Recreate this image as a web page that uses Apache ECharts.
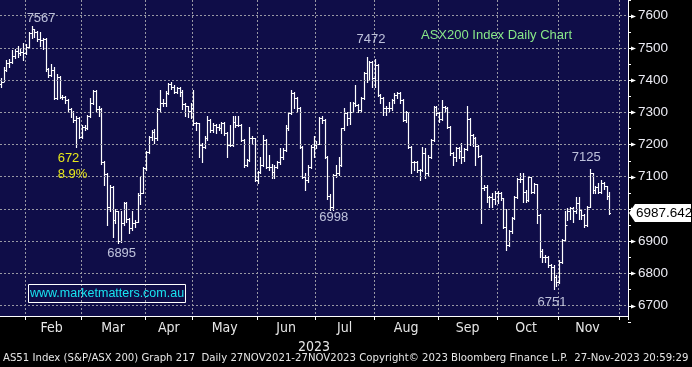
<!DOCTYPE html>
<html><head><meta charset="utf-8">
<script src="https://cdn.jsdelivr.net/npm/echarts@6/dist/echarts.min.js"></script>
<style>html,body{margin:0;padding:0;background:#000}#c{width:692px;height:367px}</style>
</head><body><div id="c"></div>
<script>
// ---- categories: trading days (last six are future days on the axis)
const monthKeys = ['2023-01','2023-02','2023-03','2023-04','2023-05','2023-06','2023-07','2023-08','2023-09','2023-10','2023-11','2023-12'];
const tradingDays = [
  [18,19,20,23,24,25,27,30,31],
  [1,2,3,6,7,8,9,10,13,14,15,16,17,20,21,22,23,24,27,28],
  [1,2,3,6,7,8,9,10,13,14,15,16,17,20,21,22,23,24,27,28,29,30,31],
  [3,4,5,6,11,12,13,14,17,18,19,20,21,24,26,27,28],
  [1,2,3,4,5,8,9,10,11,12,15,16,17,18,19,22,23,24,25,26,29,30,31],
  [1,2,5,6,7,8,9,13,14,15,16,19,20,21,22,23,26,27,28,29,30],
  [3,4,5,6,7,10,11,12,13,14,17,18,19,20,21,24,25,26,27,28,31],
  [1,2,3,4,7,8,9,10,11,14,15,16,17,18,21,22,23,24,25,28,29,30,31],
  [1,4,5,6,7,8,11,12,13,14,15,18,19,20,21,22,25,26,27,28,29],
  [2,3,4,5,6,9,10,11,12,13,16,17,18,19,20,23,24,25,26,27,30,31],
  [1,2,3,6,7,8,9,10,13,14,15,16,17,20,21,22,23,24,27,28,29,30],
  [1,4,5]
];
const labelMonthKeys = ['2023-02','2023-03','2023-04','2023-05','2023-06','2023-07','2023-08','2023-09','2023-10','2023-11'];
const labelMonthNames = ['Feb','Mar','Apr','May','Jun','Jul','Aug','Sep','Oct','Nov'];

// ---- OHLC values (Jan 18 .. Nov 27 2023)
const openV = [
 7388,7395,7431,7454,7457,7475,7490,7483,7488,
 7483,7504,7545,7558,7550,7527,7525,7527,7433,7416,7431,7343,7411,7349,7346,7338,7309,7300,7276,7281,
 7224,7255,7250,7288,7328,7367,7310,7309,7147,7108,7007,7069,6966,6992,6900,6955,7017,6968,6940,6955,6960,7043,7050,
 7126,7178,7222,7240,7219,7309,7328,7328,7361,7388,7380,7364,7374,7364,7325,7318,7305,
 7312,7266,7266,7199,7193,7219,7276,7245,7261,7255,7250,7266,7235,7199,7199,7270,7261,7261,7214,7136,7152,7219,7219,
 7090,7115,7136,7214,7131,7131,7115,7131,7145,7160,7183,7250,7297,7359,7344,7312,7193,7100,7090,7131,7193,
 7198,7203,7281,7275,7162,7040,7005,7105,7110,7136,7250,7297,7281,7302,7328,7323,7307,7343,7421,7400,7457,
 7405,7447,7354,7343,7312,7312,7312,7338,7354,7359,7338,7276,7300,7193,7147,7147,7121,7121,7173,7110,7162,7214,7317,
 7297,7280,7317,7312,7255,7175,7160,7188,7180,7160,7185,7278,7230,7220,7195,7165,7064,7069,7036,7036,7030,
 7049,7049,7033,6945,6888,6930,6971,7038,7092,7092,7054,7028,7098,7054,7076,6981,6870,6852,6850,6826,6820,6790,
 6774,6836,6904,6950,6992,7002,6992,7018,6997,6981,6950,7007,7111,7059,7069,7054,7080,7070,7040
];
const highV = [
 7405,7440,7462,7467,7493,7497,7505,7500,7515,
 7512,7550,7567,7560,7553,7548,7532,7530,7436,7450,7440,7418,7413,7355,7350,7340,7312,7303,7287,7285,
 7262,7260,7292,7345,7370,7370,7320,7312,7150,7110,7075,7070,7000,6995,6992,7020,7020,6972,6995,6965,7050,7100,7130,
 7180,7225,7244,7248,7312,7370,7340,7365,7392,7395,7384,7380,7378,7368,7330,7320,7330,
 7369,7270,7268,7205,7225,7290,7280,7266,7265,7265,7270,7270,7238,7261,7290,7290,7290,7265,7216,7156,7255,7225,7221,
 7118,7160,7230,7216,7168,7140,7136,7150,7188,7190,7260,7300,7369,7362,7347,7315,7196,7110,7136,7198,7225,
 7212,7285,7290,7278,7165,7045,7108,7136,7160,7252,7312,7300,7333,7332,7385,7326,7346,7425,7472,7460,7460,
 7467,7450,7358,7346,7318,7333,7340,7359,7362,7362,7340,7304,7302,7195,7150,7150,7125,7193,7190,7166,7217,7320,7320,
 7302,7338,7320,7315,7258,7178,7192,7192,7206,7190,7320,7282,7233,7223,7198,7168,7074,7074,7040,7050,7055,
 7055,7052,7035,7000,6935,6975,7040,7095,7110,7110,7058,7100,7100,7080,7078,6985,6875,6858,6855,6830,6825,6795,
 6840,6908,6992,7002,7007,7005,7038,7038,7000,6985,7010,7125,7112,7072,7080,7090,7083,7072,7054
];
const lowV = [
 7380,7398,7428,7440,7452,7470,7472,7478,7463,
 7480,7500,7530,7535,7520,7505,7498,7428,7410,7412,7340,7340,7343,7340,7330,7300,7285,7270,7193,7220,
 7220,7244,7248,7285,7325,7305,7290,7140,7075,6950,6995,6914,6955,6895,6897,6950,6960,6924,6935,6945,6958,7015,7048,
 7122,7175,7215,7205,7215,7305,7318,7318,7358,7372,7360,7360,7350,7310,7290,7285,7282,
 7262,7246,7162,7145,7190,7215,7240,7240,7235,7245,7236,7230,7162,7195,7195,7255,7256,7210,7130,7132,7148,7200,7088,
 7080,7112,7132,7127,7121,7095,7095,7128,7140,7155,7180,7245,7295,7312,7305,7188,7095,7059,7085,7128,7162,
 7190,7200,7268,7158,7030,6998,6998,7100,7105,7132,7245,7260,7265,7300,7318,7300,7305,7340,7395,7400,7380,
 7380,7350,7330,7291,7291,7305,7308,7330,7345,7330,7272,7270,7190,7110,7120,7115,7090,7118,7095,7105,7158,7210,7292,
 7270,7276,7305,7250,7167,7137,7150,7157,7141,7150,7182,7199,7195,7137,7160,6955,7060,7020,7005,7005,7015,
 7017,7028,6940,6872,6885,6925,6968,7035,7085,7022,7020,7025,7050,7050,6955,6850,6836,6835,6820,6780,6751,6760,
 6770,6832,6900,6966,6970,6960,6988,6970,6970,6945,6948,7005,7050,7050,7050,7050,7062,7030,6985
];
const closeV = [
 7395,7431,7454,7457,7475,7490,7483,7488,7483,
 7504,7545,7558,7550,7527,7525,7527,7433,7416,7431,7343,7411,7349,7346,7338,7309,7300,7276,7281,7224,
 7255,7250,7288,7328,7367,7310,7309,7147,7108,7007,7069,6966,6992,6900,6955,7017,6968,6940,6955,6960,7043,7050,7126,
 7178,7222,7240,7219,7309,7328,7328,7361,7388,7380,7364,7374,7364,7325,7318,7305,7312,
 7266,7266,7199,7193,7219,7276,7245,7261,7255,7250,7266,7235,7199,7199,7270,7261,7261,7214,7136,7152,7219,7219,7090,
 7115,7136,7214,7131,7131,7115,7131,7145,7160,7183,7250,7297,7359,7344,7312,7193,7100,7090,7131,7193,7198,
 7203,7281,7275,7162,7040,7005,7105,7110,7136,7250,7297,7281,7302,7328,7323,7307,7343,7421,7400,7457,7405,
 7447,7354,7343,7312,7312,7312,7338,7354,7359,7338,7276,7300,7193,7147,7147,7121,7121,7173,7110,7162,7214,7317,7297,
 7280,7317,7312,7255,7175,7160,7188,7180,7160,7185,7278,7230,7220,7195,7165,7064,7069,7036,7036,7030,7049,
 7049,7033,6945,6888,6930,6971,7038,7092,7092,7054,7028,7098,7054,7076,6981,6870,6852,6850,6826,6820,6790,6774,
 6836,6904,6950,6992,7002,6992,7018,6997,6981,6950,7007,7111,7059,7069,7054,7080,7070,7040,6987.642
];

// ---- y axis ticks
const yTicks = [6700,6800,6900,7000,7100,7200,7300,7400,7500,7600];
const yMinorTicks = [6650,6750,6850,6950,7050,7150,7250,7350,7450,7550,7650];

// ---- annotations
const annoText = ['7567','6895','6998','7472','7125','6751'];
const annoIdx  = [11, 42, 118, 131, 211, 198];
const annoVal  = [7567, 6895, 6998, 7472, 7125, 6751];
const annoOffset = [[9,-8],[3,11],[3,8],[4,-17],[-4,-11],[-2,13]];
const dropText = ['672','8.9%'];
const titleText = 'ASX200 Index Daily Chart';
const urlText = 'www.marketmatters.com.au';
const footerText = 'AS51 Index (S&P/ASX 200) Graph 217  Daily 27NOV2021-27NOV2023 Copyright\u00A9 2023 Bloomberg Finance L.P.  27-Nov-2023 20:59:29';
const yearText = '2023';
const lastValueText = '6987.642';

// ---- build categories
const categories = [];
monthKeys.forEach((mk, m) => tradingDays[m].forEach(d => categories.push(mk + '-' + String(d).padStart(2,'0'))));
const monthOf = i => categories[i].slice(0,7);
const isMonthStart = i => i > 0 && monthOf(i) !== monthOf(i-1);
const midIdx = {};
labelMonthKeys.forEach((mk, k) => {
  let first = -1, last = -1;
  categories.forEach((c, i) => { if (c.slice(0,7) === mk) { if (first < 0) first = i; last = i; } });
  midIdx[Math.floor((first + last) / 2)] = labelMonthNames[k];
});

const ohlc = closeV.map((c, i) => [i, openV[i], highV[i], lowV[i], c]);

const NARROW = "'Liberation Sans Narrow','DejaVu Sans Condensed','Roboto Condensed',sans-serif";
const SANS = "'Liberation Sans',Arial,sans-serif";
const GRID_COL = '#9898a4';
const PLOT_BG = '#0f0d48';

function renderOHLC(params, api) {
  const idx = api.value(0);
  const o = api.coord([idx, api.value(1)]);
  const h = api.coord([idx, api.value(2)]);
  const l = api.coord([idx, api.value(3)]);
  const c = api.coord([idx, api.value(4)]);
  const half = api.size([1, 0])[0] / 2;
  const xc = Math.floor(o[0]) + 0.5;
  const xl = Math.round(o[0] - half);
  const xr = Math.round(o[0] + half);
  const st = {stroke: '#ffffff', lineWidth: 1.2};
  const yo = Math.round(o[1]) + 0.5, yc = Math.round(c[1]) + 0.5;
  return {type: 'group', children: [
    {type: 'line', shape: {x1: xc, y1: Math.round(h[1]), x2: xc, y2: Math.round(l[1]) + 1}, style: st},
    {type: 'line', shape: {x1: xl, y1: yo, x2: xc, y2: yo}, style: st},
    {type: 'line', shape: {x1: xc, y1: yc, x2: xr, y2: yc}, style: st}
  ]};
}

// fit the footer line to the width it has in the picture
const footerWidth = 686;
const mctx = document.createElement('canvas').getContext('2d');
mctx.font = '13px ' + NARROW;
const footerSize = Math.min(14, 13 * footerWidth / mctx.measureText(footerText).width);

const chart = echarts.init(document.getElementById('c'), null, {renderer: 'canvas', width: 692, height: 367});
chart.setOption({
  backgroundColor: '#000000',
  animation: false,
  grid: {left: 0, right: 64, top: 0, bottom: 51, show: true, backgroundColor: PLOT_BG, borderWidth: 0},
  xAxis: {
    type: 'category', data: categories, boundaryGap: true,
    axisLine: {show: true, lineStyle: {color: '#ffffff', width: 1}},
    axisTick: {show: true, interval: (i) => isMonthStart(i), length: 4, lineStyle: {color: '#ffffff'}},
    axisLabel: {interval: (i) => midIdx[i] !== undefined, formatter: (v, i) => midIdx[i] || '',
      color: '#e6e6e6', fontSize: 14, fontFamily: NARROW, margin: 5},
    splitLine: {show: true, interval: (i) => isMonthStart(i), lineStyle: {color: GRID_COL, type: [2, 2], width: 1}},
    name: yearText, nameLocation: 'middle', nameGap: 17,
    nameTextStyle: {color: '#e6e6e6', fontSize: 14, fontFamily: NARROW}
  },
  yAxis: {
    type: 'value', position: 'right', min: 6667.4, max: 7648.7, splitNumber: 10,
    axisLine: {show: true, lineStyle: {color: '#ffffff', width: 1}},
    axisTick: {show: false},
    axisLabel: {color: '#ececf4', fontSize: 13.5, fontFamily: SANS, margin: 10, showMinLabel: false, showMaxLabel: false,
      formatter: (v) => String(v)},
    splitLine: {show: false}
  },
  series: [
    {
      type: 'scatter', z: 1, symbolSize: 0, silent: true,
      data: annoText.map((t, k) => ({name: t, value: [annoIdx[k], annoVal[k]], label: {offset: annoOffset[k]}})),
      label: {show: true, position: 'inside', formatter: p => p.name, color: '#e8eeff', fontSize: 13, fontFamily: SANS},
      markLine: {silent: true, symbol: ['none', 'none'], label: {show: false},
        lineStyle: {color: GRID_COL, type: [2, 2], width: 1},
        data: yTicks.map(v => ({yAxis: v}))}
    },
    {
      type: 'custom', z: 3, silent: true, renderItem: renderOHLC,
      encode: {x: 0, y: [1, 2, 3, 4]}, data: ohlc
    }
  ]
});

// ---- overlay graphics (axis tick marks, value box, texts)
const yPix = v => chart.convertToPixel({yAxisIndex: 0}, v);
const axisX = 692 - 64;
const g = [];
yTicks.forEach(v => {
  const y = Math.round(yPix(v)) + 0.5;
  g.push({type: 'line', shape: {x1: axisX, y1: y, x2: axisX + 3, y2: y}, style: {stroke: '#fff', lineWidth: 1}, z: 50});
  g.push({type: 'polygon', shape: {points: [[axisX + 3, y - 2], [axisX + 8, y], [axisX + 3, y + 2]]}, style: {fill: '#fff'}, z: 50});
});
yMinorTicks.forEach(v => {
  const y = Math.round(yPix(v)) + 0.5;
  g.push({type: 'line', shape: {x1: axisX, y1: y, x2: axisX + 3, y2: y}, style: {stroke: '#fff', lineWidth: 1}, z: 50});
});
const lastY = yPix(closeV[closeV.length - 1]);
g.push({type: 'polygon', z: 60, shape: {points: [[axisX + 1, lastY], [axisX + 7, lastY - 9], [691, lastY - 9], [691, lastY + 9], [axisX + 7, lastY + 9]]},
  style: {fill: '#ffffff', stroke: '#000', lineWidth: 0}});
g.push({type: 'text', z: 61, x: axisX + 8, y: lastY, style: {text: lastValueText, fill: '#000', font: '13.5px ' + SANS, verticalAlign: 'middle'}});
g.push({type: 'text', z: 61, x: 421, y: 35.5, style: {text: titleText, fill: '#88e888', font: '13px ' + SANS, verticalAlign: 'middle'}});
g.push({type: 'text', z: 61, x: 68.5, y: 158, style: {text: dropText[0], fill: '#e8e81a', font: '13px ' + SANS, align: 'center', verticalAlign: 'middle'}});
g.push({type: 'text', z: 61, x: 72.5, y: 174, style: {text: dropText[1], fill: '#e8e81a', font: '13px ' + SANS, align: 'center', verticalAlign: 'middle'}});
g.push({type: 'rect', z: 61, shape: {x: 28.5, y: 284.5, width: 157, height: 18}, style: {fill: 'none', stroke: '#ffffff', lineWidth: 1}});
g.push({type: 'text', z: 62, x: 107, y: 293.5, style: {text: urlText, fill: '#19e3f0', font: '12.5px ' + SANS, align: 'center', verticalAlign: 'middle'}});
g.push({type: 'text', z: 62, x: 3, y: 358, style: {text: footerText, fill: '#e6e6e6', font: footerSize.toFixed(2) + 'px ' + NARROW, verticalAlign: 'middle'}});
chart.setOption({graphic: {elements: g}});
</script></body></html>
